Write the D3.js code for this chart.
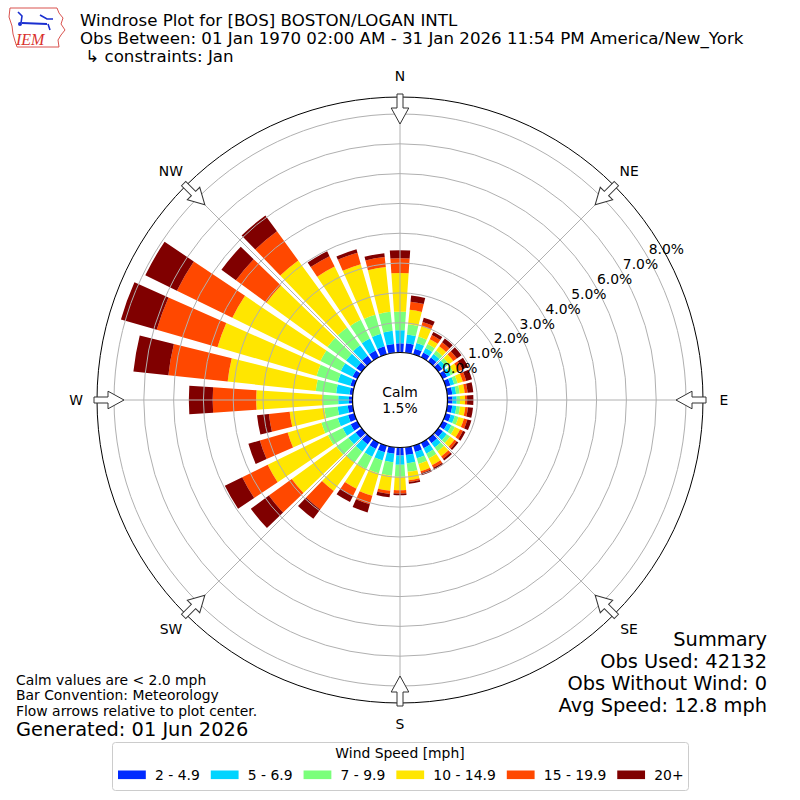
<!DOCTYPE html>
<html>
<head>
<meta charset="utf-8">
<script src="https://cdn.jsdelivr.net/npm/d3@7"></script>
<style>
  body { margin: 0; background: #fff; }
  text { font-family: "DejaVu Sans", sans-serif; }
</style>
</head>
<body>
<div id="chart"></div>
<script>
// wind direction bins (degrees, meteorological)
const directions = [0, 10, 20, 30, 40, 50, 60, 70, 80, 90, 100, 110, 120, 130, 140, 150, 160, 170,
  180, 190, 200, 210, 220, 230, 240, 250, 260, 270, 280, 290, 300, 310, 320, 330, 340, 350];

const speedBins = ["2 - 4.9", "5 - 6.9", "7 - 9.9", "10 - 14.9", "15 - 19.9", "20+"];
const binColors = ["#002aff", "#00d4ff", "#7bff7b", "#ffe600", "#ff4800", "#800000"];

// percent of observations, one array per speed bin, indexed like directions
const spd2to5 = [0.31, 0.32, 0.20, 0.18, 0.17, 0.17, 0.17, 0.17, 0.17, 0.17, 0.17, 0.18, 0.18, 0.19, 0.20, 0.21, 0.22, 0.26,
  0.27, 0.22, 0.23, 0.24, 0.25, 0.25, 0.25, 0.22, 0.17, 0.12, 0.11, 0.14, 0.18, 0.22, 0.24, 0.26, 0.28, 0.30];
const spd5to7 = [0.44, 0.30, 0.20, 0.17, 0.15, 0.14, 0.13, 0.13, 0.13, 0.14, 0.14, 0.14, 0.15, 0.16, 0.18, 0.20, 0.22, 0.28,
  0.31, 0.29, 0.29, 0.29, 0.30, 0.30, 0.30, 0.36, 0.34, 0.36, 0.45, 0.44, 0.44, 0.43, 0.44, 0.44, 0.44, 0.44];
const spd7to10 = [0.62, 0.34, 0.22, 0.15, 0.14, 0.13, 0.12, 0.12, 0.12, 0.11, 0.12, 0.13, 0.13, 0.14, 0.16, 0.18, 0.20, 0.29,
  0.40, 0.45, 0.45, 0.45, 0.45, 0.50, 0.55, 0.57, 0.45, 0.52, 0.69, 0.74, 0.76, 0.77, 0.74, 0.70, 0.66, 0.64];
const spd10to15 = [1.30, 0.49, 0.36, 0.18, 0.18, 0.18, 0.18, 0.18, 0.17, 0.17, 0.18, 0.19, 0.19, 0.18, 0.21, 0.25, 0.25, 0.28,
  0.45, 0.51, 0.78, 0.74, 1.18, 1.85, 2.25, 1.18, 1.17, 2.23, 2.97, 3.46, 3.29, 2.53, 2.78, 1.99, 1.77, 1.51];
const spd15to20 = [0.49, 0.27, 0.15, 0.15, 0.16, 0.15, 0.14, 0.12, 0.10, 0.07, 0.09, 0.12, 0.11, 0.09, 0.10, 0.10, 0.07, 0.06,
  0.11, 0.11, 0.30, 0.26, 0.77, 0.95, 0.95, 0.97, 0.70, 1.46, 2.00, 2.12, 2.07, 1.27, 1.21, 0.39, 0.40, 0.34];
const spd20up = [0.27, 0.21, 0.15, 0.12, 0.16, 0.19, 0.21, 0.20, 0.19, 0.21, 0.17, 0.14, 0.09, 0.07, 0.07, 0.07, 0.07, 0.06,
  0.06, 0.11, 0.28, 0.24, 0.39, 0.75, 0.65, 0.40, 0.40, 0.80, 1.18, 1.25, 1.18, 0.60, 0.66, 0.18, 0.12, 0.13];

const ringTicks = [0, 1, 2, 3, 4, 5, 6, 7, 8];
const compassNames = ["N", "NE", "E", "SE", "S", "SW", "W", "NW"];
const compassAngles = [0, 45, 90, 135, 180, 225, 270, 315];
const calmPct = 1.5;

const titleLines = [
  "Windrose Plot for [BOS] BOSTON/LOGAN INTL",
  "Obs Between: 01 Jan 1970 02:00 AM - 31 Jan 2026 11:54 PM America/New_York",
  " \u21b3 constraints: Jan"
];
const noteLines = ["Calm values are < 2.0 mph", "Bar Convention: Meteorology", "Flow arrows relative to plot center."];
const generatedText = "Generated: 01 Jun 2026";
const summaryLines = ["Summary", "Obs Used: 42132", "Obs Without Wind: 0", "Avg Speed: 12.8 mph"];

// ---------------------------------------------------------------
const W = 800, H = 800, cx = 400, cy = 400, outerR = 303;
const rad = a => a * Math.PI / 180;
const halfW = 3.9;  // half bar width in degrees

const svg = d3.select("#chart").append("svg")
  .attr("width", W).attr("height", H);

const r = d3.scaleLinear().domain([0, 8]).range([47.5, 286]);

const keys = ["b1", "b2", "b3", "b4", "b5", "b6"];
const binArrays = [spd2to5, spd5to7, spd7to10, spd10to15, spd15to20, spd20up];
const table = directions.map((d, i) => {
  const row = { dir: d };
  keys.forEach((k, j) => row[k] = binArrays[j][i]);
  return row;
});
const series = d3.stack().keys(keys)(table);

const plot = svg.append("g").attr("transform", "translate(" + cx + "," + cy + ")");

// bars
const arc = d3.arc();
series.forEach((s, k) => {
  plot.append("g").selectAll("path").data(s).join("path")
    .attr("fill", binColors[k])
    .attr("d", d => arc({
      innerRadius: r(d[0]), outerRadius: r(d[1]),
      startAngle: rad(d.data.dir - halfW), endAngle: rad(d.data.dir + halfW)
    }));
});

// grid on top
plot.append("g").selectAll("circle").data(ringTicks).join("circle")
  .attr("r", d => r(d)).attr("fill", "none")
  .attr("stroke", "#b0b0b0").attr("stroke-width", 1);

plot.append("g").selectAll("line").data(compassAngles).join("line")
  .attr("x1", d => r(0) * Math.sin(rad(d))).attr("y1", d => -r(0) * Math.cos(rad(d)))
  .attr("x2", d => outerR * Math.sin(rad(d))).attr("y2", d => -outerR * Math.cos(rad(d)))
  .attr("stroke", "#b0b0b0").attr("stroke-width", 1);

plot.append("circle").attr("r", outerR).attr("fill", "none").attr("stroke", "#000").attr("stroke-width", 1);

// calm circle
plot.append("circle").attr("r", r(0)).attr("fill", "#fff").attr("stroke", "#000").attr("stroke-width", 1.2);
plot.append("text").attr("y", -3.5).attr("text-anchor", "middle").style("font-size", "13.9px").text("Calm");
plot.append("text").attr("y", 12.5).attr("text-anchor", "middle").style("font-size", "13.9px")
  .text(calmPct.toFixed(1) + "%");

// ring labels along 60 degrees
const labAng = rad(60);
plot.append("g").selectAll("text").data(ringTicks).join("text")
  .attr("x", d => r(d) * Math.sin(labAng) + 1)
  .attr("y", d => -r(d) * Math.cos(labAng) - 3)
  .style("font-size", "13.9px")
  .text(d => d3.format(".1f")(d) + "%");

// flow arrows
const arrowPts = [[-3, -306], [3, -306], [3, -292], [8.8, -292], [0, -276], [-8.8, -292], [-3, -292]];
plot.append("g").selectAll("path").data(compassAngles).join("path")
  .attr("transform", d => "rotate(" + d + ")")
  .attr("d", d3.line()(arrowPts) + "Z")
  .attr("fill", "#fff").attr("stroke", "#333").attr("stroke-width", 1);

// compass labels
plot.append("g").selectAll("text").data(compassAngles).join("text")
  .attr("x", d => 324 * Math.sin(rad(d)))
  .attr("y", d => -324 * Math.cos(rad(d)))
  .attr("text-anchor", "middle").attr("dominant-baseline", "central")
  .style("font-size", "13.9px")
  .text((d, i) => compassNames[i]);

// title
svg.append("g").selectAll("text").data(titleLines).join("text")
  .attr("x", 80).attr("y", (d, i) => 25.5 + i * 18.3)
  .style("font-size", "16.65px").style("white-space", "pre")
  .text(d => d);

// notes bottom left
svg.append("g").selectAll("text").data(noteLines).join("text")
  .attr("x", 16).attr("y", (d, i) => 684.5 + i * 15.6)
  .style("font-size", "13.9px")
  .text(d => d);
svg.append("text").attr("x", 16).attr("y", 736).style("font-size", "19.4px").text(generatedText);

// summary bottom right
svg.append("g").selectAll("text").data(summaryLines).join("text")
  .attr("x", 767).attr("y", (d, i) => 646 + i * 22)
  .attr("text-anchor", "end")
  .style("font-size", "19.4px")
  .text(d => d);

// legend
const leg = svg.append("g");
leg.append("rect").attr("x", 112.5).attr("y", 742.5).attr("width", 576).attr("height", 48)
  .attr("rx", 3).attr("fill", "#fff").attr("stroke", "#cccccc");
leg.append("text").attr("x", 400).attr("y", 758).attr("text-anchor", "middle")
  .style("font-size", "13.9px").text("Wind Speed [mph]");
let lx = 118;
speedBins.forEach((lab, i) => {
  leg.append("rect").attr("x", lx).attr("y", 770.5).attr("width", 27.8).attr("height", 8.6)
    .attr("fill", binColors[i]);
  const t = leg.append("text").attr("x", lx + 37).attr("y", 780)
    .style("font-size", "13.9px").text(lab);
  lx += 37 + t.node().getComputedTextLength() + 11;
});

// IEM logo
const logo = svg.append("g");
logo.append("path")
  .attr("d", "M10,8 L57,8 L59,13 L63,18 L61,24 L65,30 L61,35 L58,40 L59,47 L17,47 L15,41 L13,34 L12,26 L9,17 Z")
  .attr("fill", "#fff").attr("stroke", "#d9534f").attr("stroke-width", 1);
logo.append("line").attr("x1", 22).attr("y1", 23).attr("x2", 47).attr("y2", 24)
  .attr("stroke", "#1a2fd0").attr("stroke-width", 2);
logo.append("path").attr("d", "M18,12 L22,16 L21,23 M40,15 L47,19 L53,19 M48,24 L50,30")
  .attr("fill", "none").attr("stroke", "#1a2fd0").attr("stroke-width", 1.6);
logo.append("circle").attr("cx", 20).attr("cy", 24).attr("r", 2).attr("fill", "#1a2fd0");
logo.append("text").attr("x", 16).attr("y", 45)
  .style("font-family", "'Liberation Serif', serif").style("font-style", "italic")
  .style("font-size", "16px").attr("fill", "#d9302c").text("IEM");
</script>
</body>
</html>
